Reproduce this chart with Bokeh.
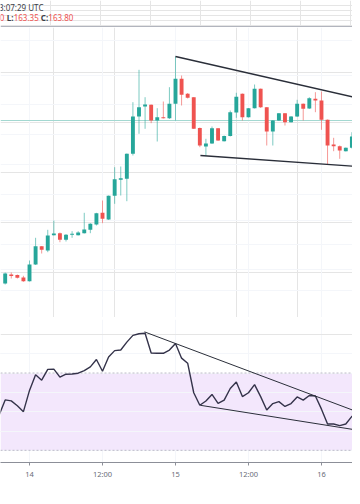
from bokeh.plotting import figure
from bokeh.layouts import column
from bokeh.models import Range1d, FixedTicker, Grid, Span, BoxAnnotation, ColumnDataSource
from bokeh.core.properties import value
from bokeh.core.validation import silence
from bokeh.core.validation.warnings import MISSING_RENDERERS
from bokeh.embed import file_html
from bokeh.resources import INLINE

silence(MISSING_RENDERERS, True)

# ---------------- data ----------------
# hourly candles, hour offset relative to day 15 00:00
hours = list(range(-28, 31))
opens = [148.90, 149.80, 149.75, 149.50, 149.13, 150.80, 152.63, 152.20, 153.73, 153.93,
         153.27, 153.77, 153.73, 153.93, 154.27, 154.80, 155.97, 155.30, 157.67, 159.27,
         159.37, 161.87, 165.60, 166.60, 166.77, 165.20, 165.53, 165.43, 166.87, 169.37,
         167.87, 167.53, 164.45, 162.60, 162.90, 164.43, 163.13, 163.65, 166.00, 167.87,
         165.53, 166.43, 168.37, 166.53, 164.10, 165.20, 165.93, 165.03, 165.60, 166.87,
         166.40, 167.37, 167.20, 165.27, 162.80, 162.63, 162.13, 162.47, 163.53]
highs = [150.00, 150.00, 149.80, 149.67, 151.20, 153.47, 152.65, 154.27, 155.20, 154.00,
         153.85, 154.13, 154.13, 155.97, 154.93, 155.97, 157.20, 157.70, 160.53, 160.60,
         161.90, 167.03, 170.27, 167.53, 166.80, 166.43, 167.10, 168.53, 171.60, 169.70,
         167.95, 167.55, 164.50, 163.37, 164.60, 164.45, 163.70, 166.20, 167.97, 167.90,
         166.45, 168.80, 168.40, 166.55, 165.25, 165.95, 165.95, 165.65, 167.27, 166.90,
         167.53, 168.03, 168.10, 165.30, 163.47, 162.70, 162.50, 164.03, 164.03]
lows = [148.80, 149.40, 149.40, 149.07, 149.10, 150.75, 151.90, 152.03, 153.70, 153.03,
        153.10, 153.47, 153.70, 153.90, 153.93, 154.70, 154.93, 155.25, 156.87, 157.70,
        157.13, 161.70, 163.87, 164.37, 164.93, 163.10, 165.40, 165.35, 165.20, 166.70,
        167.40, 164.35, 162.53, 161.70, 162.85, 163.15, 163.10, 163.60, 165.47, 165.20,
        165.50, 166.40, 166.45, 162.70, 162.70, 165.15, 164.70, 165.00, 165.55, 165.20,
        166.35, 166.03, 164.27, 160.80, 162.13, 161.37, 162.10, 162.40, 163.35]
closes = [149.90, 149.65, 149.47, 149.13, 150.80, 152.63, 152.27, 153.70, 153.90, 153.27,
          153.77, 153.87, 154.00, 154.30, 154.87, 155.93, 155.37, 157.67, 159.33, 159.43,
          161.87, 165.60, 166.53, 166.80, 165.20, 165.53, 165.43, 166.87, 169.37, 167.77,
          167.47, 164.37, 162.70, 162.90, 164.43, 163.20, 163.65, 166.03, 167.57, 165.53,
          166.43, 168.37, 166.53, 164.10, 165.20, 165.93, 165.03, 165.60, 166.87, 166.37,
          167.43, 167.20, 165.27, 162.70, 162.63, 162.20, 162.47, 163.60, 163.80]

rsi_hours = list(range(-29, 31))
rsi = [48.2, 56.1, 55.6, 53.1, 50.0, 61.0, 69.1, 66.3, 71.9, 72.0,
       67.9, 69.4, 69.5, 69.9, 71.2, 73.2, 77.0, 70.9, 78.3, 81.6,
       81.9, 86.0, 89.5, 90.3, 90.6, 80.4, 80.2, 80.2, 81.9, 85.3,
       77.7, 75.1, 59.8, 53.3, 55.5, 58.9, 54.3, 56.0, 62.0, 65.4,
       57.8, 59.8, 64.0, 57.8, 50.9, 54.2, 55.2, 52.7, 54.2, 57.6,
       56.0, 58.4, 58.1, 51.3, 43.6, 43.6, 42.8, 43.6, 47.6, 48.2]

# drawn trendlines (hour offset, value)
price_upper_x = [0, 31]
price_upper_y = [171.6, 167.3]
price_lower_x = [4.1, 31]
price_lower_y = [161.7, 160.55]
rsi_upper_x = [-5.1, 31]
rsi_upper_y = [91.3, 48.6]
rsi_lower_x = [4.1, 31]
rsi_lower_y = [53.3, 39.9]

price_line = 165.20
day_ticks = [-24, -12, 0, 12, 24]
day_labels = ["14", "12:00", "15", "12:00", "16"]
price_grid = [173.2, 169.7, 166.8, 163.8, 160.8, 157.8, 155.2, 152.8, 150.3, 148.2]
rsi_grid = [30, 40, 50, 60, 70, 80]
rsi_band = [30, 70]
header_time = "3:07:29 UTC"

# ---------------- style ----------------
W = 352
UP = "#26a69a"
DN = "#ef5350"
GRID = "#f4f6fa"
FONT = value("Noto Sans")
xr = Range1d(-28.77, 29.10)


def base(height, **kw):
    return figure(width=W, height=height, toolbar_location=None, output_backend="svg",
                  min_border=0, outline_line_color=None, background_fill_color="white",
                  border_fill_color="white", **kw)


# header
head = base(27, x_range=Range1d(0, 352), y_range=Range1d(27, 0),
            x_axis_location=None, y_axis_location=None)
head.text(x=[-1.5], y=[7], text=[header_time], text_font=FONT, text_font_size="8px",
          text_color="#3b3e48", text_baseline="middle", text_align="left")
head.text(x=[-0.8], y=[17.2], text=["0"], text_font=FONT, text_font_size="8px",
          text_color=DN, text_baseline="middle", text_align="left")
head.text(x=[6.3, 40.3], y=[17.2, 17.2], text=["L:", "C:"], text_font=FONT,
          text_font_size="8px", text_font_style="bold", text_color="#3b3e48",
          text_baseline="middle", text_align="left")
head.text(x=[13.2, 47.8], y=[17.2, 17.2], text=[f"{lows[-1]:.2f}", f"{closes[-1]:.2f}"],
          text_font=FONT, text_font_size="8px", text_color=DN,
          text_baseline="middle", text_align="left")
head.add_layout(Span(location=26, dimension="width", line_color="#b2b5be", line_width=1))

# main price pane
main = base(290, x_range=xr, y_range=Range1d(145.5, 174.5),
            x_axis_location=None, y_axis_location=None)
main.add_layout(Grid(dimension=0, ticker=FixedTicker(ticks=day_ticks), grid_line_color=GRID))
main.add_layout(Grid(dimension=1, ticker=FixedTicker(ticks=price_grid), grid_line_color=GRID))
main.add_layout(Span(location=price_line, dimension="width", line_color="#a3d8d1",
                     line_width=1, level="underlay"))

colors = [UP if c >= o else DN for o, c in zip(opens, closes)]
src = ColumnDataSource(dict(x=hours, top=[max(o, c) for o, c in zip(opens, closes)],
                            bottom=[min(o, c) for o, c in zip(opens, closes)],
                            high=highs, low=lows, color=colors))
main.segment(x0="x", y0="low", x1="x", y1="high", line_color="color", line_width=1,
             line_alpha=0.6, source=src)
main.vbar(x="x", width=0.64, top="top", bottom="bottom", fill_color="color",
          line_color=None, source=src)
main.line(price_upper_x, price_upper_y, line_color="#2a2e39", line_width=1.4)
main.line(price_lower_x, price_lower_y, line_color="#2a2e39", line_width=1.4)

# separator
sep = base(2, x_range=Range1d(0, 1), y_range=Range1d(0, 1),
           x_axis_location=None, y_axis_location=None)
sep.background_fill_color = "#c9ccd4"
sep.border_fill_color = "#c9ccd4"

# RSI pane
rp = base(162, x_range=xr, y_range=Range1d(23.7, 97.7),
          x_axis_location="below", y_axis_location=None)
rp.min_border_bottom = 17
rp.add_layout(BoxAnnotation(bottom=rsi_band[0], top=rsi_band[1], fill_color="#f3e7fc",
                            fill_alpha=1.0, line_color=None, level="underlay"))
rp.xaxis.ticker = FixedTicker(ticks=day_ticks)
rp.xaxis.major_label_overrides = dict(zip(day_ticks, day_labels))
rp.xaxis.axis_line_color = "#8c8f98"
rp.xaxis.major_tick_line_color = "#8c8f98"
rp.xaxis.major_tick_in = 0
rp.xaxis.major_tick_out = 3
rp.xaxis.minor_tick_line_color = None
rp.xaxis.major_label_standoff = 3
rp.xaxis.major_label_text_font = "Noto Sans"
rp.xaxis.major_label_text_font_size = "7.5px"
rp.xaxis.major_label_text_color = "#6a6d78"
rp.xgrid.grid_line_color = GRID
rp.add_layout(Grid(dimension=1, ticker=FixedTicker(ticks=rsi_grid), grid_line_color=GRID))
for lv in rsi_band:
    rp.add_layout(Span(location=lv, dimension="width", line_color="#bdb9c8",
                       line_width=1, line_dash="2 2", level="underlay"))
rp.line(rsi_hours, rsi, line_color="#34334a", line_width=1.4)
rp.line(rsi_upper_x, rsi_upper_y, line_color="#2a2e39", line_width=1)
rp.line(rsi_lower_x, rsi_lower_y, line_color="#2a2e39", line_width=1)

# bottom rule
bot = base(2, x_range=Range1d(0, 1), y_range=Range1d(0, 1),
           x_axis_location=None, y_axis_location=None)
bot.background_fill_color = "#c9ccd4"
bot.border_fill_color = "#c9ccd4"

layout = column(head, main, sep, rp, bot, spacing=0)
open("out.html", "w").write(file_html(layout, INLINE))
